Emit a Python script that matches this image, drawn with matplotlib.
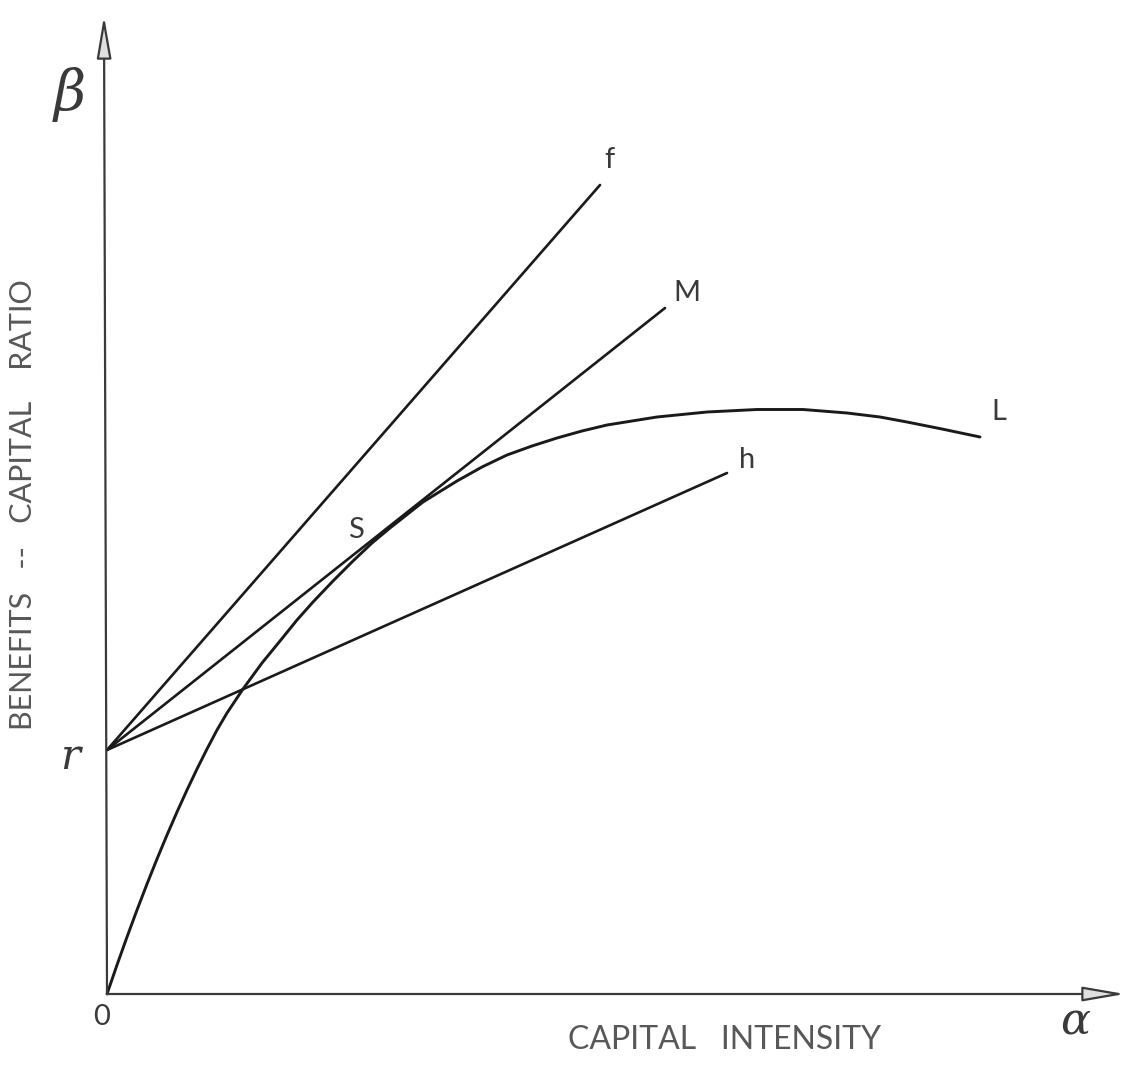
import matplotlib.pyplot as plt

# values (arbitrary units, origin at 0)
r_value = 2.44

# line ends: f, M, h all start at (0, r)
f_end = (4.93, 8.09)
m_end = (5.58, 6.86)
h_end = (6.20, 5.21)

# curve L
curve_x = [0.00, 0.10, 0.20, 0.30, 0.40, 0.50, 0.60, 0.70, 0.80, 0.90,
           1.00, 1.10, 1.20, 1.36, 1.55, 1.73, 1.90, 2.06, 2.26, 2.46,
           2.65, 2.83, 3.16, 3.50, 3.75, 4.00, 4.25, 4.50, 4.75, 5.00,
           5.50, 6.00, 6.50, 6.96, 7.40, 7.73, 8.00, 8.35, 8.73]
curve_y = [0.00, 0.29, 0.57, 0.84, 1.10, 1.35, 1.59, 1.82, 2.04, 2.25,
           2.45, 2.64, 2.81, 3.05, 3.31, 3.53, 3.74, 3.92, 4.13, 4.33,
           4.51, 4.66, 4.92, 5.13, 5.27, 5.39, 5.48, 5.56, 5.63, 5.69,
           5.77, 5.82, 5.845, 5.845, 5.81, 5.77, 5.72, 5.65, 5.57]

ink = '#1a1a1a'
grey = '#585858'
font = 'Lato'

fig = plt.figure(figsize=(11.27, 10.67), dpi=100)
ax = fig.add_axes([0, 0, 1, 1])
ax.set_xlim(-1.07, 10.20)
ax.set_ylim(-0.73, 9.94)
ax.axis('off')

# axes with arrow heads
arrow = dict(arrowstyle='-|>,head_length=2.6,head_width=0.45',
             lw=1.6, color='#3a3a3a', fc='#e0e0e0', shrinkA=0, shrinkB=0)
ax.annotate('', xy=(-0.03, 9.78), xytext=(0, 0), arrowprops=arrow)
ax.annotate('', xy=(10.18, 0.0), xytext=(0, 0), arrowprops=arrow)

# straight lines from r
for end in (f_end, m_end, h_end):
    ax.plot([0, end[0]], [r_value, end[1]], color=ink, lw=1.9,
            solid_capstyle='round')

ax.plot(curve_x, curve_y, color=ink, lw=2.1, solid_joinstyle='round',
        solid_capstyle='round')

# line labels
lab = dict(fontsize=21, color='#3a3a3a', family=font)
ax.text(f_end[0] + 0.04, f_end[1] + 0.12, 'f', ha='left', va='bottom', **lab)
ax.text(m_end[0] + 0.08, m_end[1] + 0.02, 'M', ha='left', va='bottom', **lab)
ax.text(h_end[0] + 0.12, h_end[1] + 0.0, 'h', ha='left', va='bottom', **lab)
ax.text(curve_x[-1] + 0.11, curve_y[-1] + 0.12, 'L', ha='left', va='bottom', **lab)
ax.text(2.49, 4.64, 'S', ha='center', va='center', **lab)

# origin and r
ax.text(-0.05, -0.23, '0', ha='center', va='center', **lab)
ax.text(-0.37, 2.37, 'r', ha='center', va='center', fontsize=30,
        color='#3a3a3a', family='DejaVu Serif', style='italic')

# greek axis letters
ax.text(-0.37, 9.00, 'β', ha='center', va='center', fontsize=40,
        color='#3a3a3a', family='DejaVu Serif', style='italic',
        fontweight='light')
ax.text(9.68, -0.28, 'α', ha='center', va='center', fontsize=32,
        color='#3a3a3a', family='DejaVu Serif', style='italic')

# axis titles
ax.text(6.17, -0.46, 'CAPITAL   INTENSITY', ha='center', va='center',
        fontsize=23, color=grey, family=font)
ax.text(-0.84, 4.89, 'BENEFITS   --   CAPITAL    RATIO', ha='center',
        va='center', rotation=90, fontsize=22, color=grey, family=font)

fig.savefig('out.png', dpi=100)
